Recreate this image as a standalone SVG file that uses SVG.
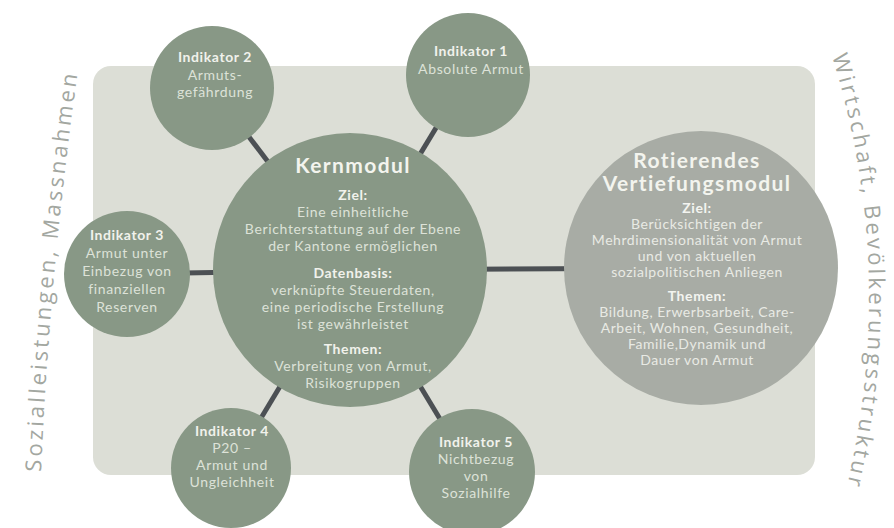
<svg xmlns="http://www.w3.org/2000/svg" width="894" height="528" viewBox="0 0 894 528">
<defs>
<style>
.bg{fill:#dcded6}
.dark{fill:#889886}
.light{fill:#a8aca5}
.con{stroke:#4c5054;stroke-width:5;fill:none}
text{font-family:Lato,"Open Sans","Liberation Sans",sans-serif;text-anchor:middle}
.t1{font-size:21px;font-weight:700;letter-spacing:1.4px;fill:#f3f4ee}
.h{font-size:14px;font-weight:700;letter-spacing:0.6px;fill:#f1f2ec}
.b{font-size:14px;letter-spacing:0.65px;fill:#dde2d8}
.hr{font-size:14px;font-weight:700;letter-spacing:0.6px;fill:#f3f4f0}
.br{font-size:14px;letter-spacing:0.55px;fill:#e8eae4}
.side{font-family:"Open Sans","Noto Sans",sans-serif;font-size:22px;letter-spacing:3.1px;fill:#a3a7a1;text-anchor:start}
</style>
<path id="pl" d="M 41,472 Q 50,262 80,56"/>
<path id="pr" d="M 832,56 Q 897,265 848,482"/>
</defs>
<rect width="894" height="528" fill="#ffffff"/>
<rect id="frame" class="bg" x="93" y="66" width="722" height="409" rx="18"/>
<g id="connectors">
<line class="con" x1="350" y1="270" x2="468" y2="75"/>
<line class="con" x1="350" y1="270" x2="212" y2="88"/>
<line class="con" x1="350" y1="270" x2="127" y2="274"/>
<line class="con" x1="350" y1="270" x2="231" y2="468"/>
<line class="con" x1="350" y1="270" x2="472" y2="472"/>
<line class="con" x1="350" y1="270" x2="701" y2="268"/>
</g>
<g id="kernmodul">
<circle class="dark" cx="350" cy="270" r="137"/>
<text class="t1" x="353" y="173">Kernmodul</text>
<text class="h" x="353" y="200">Ziel:</text>
<text class="b" x="353" y="217">Eine einheitliche</text>
<text class="b" x="353" y="234">Berichterstattung auf der Ebene</text>
<text class="b" x="353" y="251">der Kantone ermöglichen</text>
<text class="h" x="353" y="278">Datenbasis:</text>
<text class="b" x="353" y="295">verknüpfte Steuerdaten,</text>
<text class="b" x="353" y="312">eine periodische Erstellung</text>
<text class="b" x="353" y="329">ist gewährleistet</text>
<text class="h" x="353" y="354">Themen:</text>
<text class="b" x="353" y="371">Verbreitung von Armut,</text>
<text class="b" x="353" y="388">Risikogruppen</text>
</g>
<g id="vertiefungsmodul">
<circle class="light" cx="701" cy="268" r="137"/>
<text class="t1" x="697" y="168">Rotierendes</text>
<text class="t1" x="697" y="191">Vertiefungsmodul</text>
<text class="hr" x="697" y="213">Ziel:</text>
<text class="br" x="697" y="229">Berücksichtigen der</text>
<text class="br" x="697" y="245">Mehrdimensionalität von Armut</text>
<text class="br" x="697" y="261">und von aktuellen</text>
<text class="br" x="697" y="277">sozialpolitischen Anliegen</text>
<text class="hr" x="697" y="301">Themen:</text>
<text class="br" x="697" y="317">Bildung, Erwerbsarbeit, Care-</text>
<text class="br" x="697" y="333">Arbeit, Wohnen, Gesundheit,</text>
<text class="br" x="697" y="349">Familie,Dynamik und</text>
<text class="br" x="697" y="365">Dauer von Armut</text>
</g>
<g id="indikator1">
<circle class="dark" cx="468" cy="75" r="62"/>
<text class="h" x="471" y="56">Indikator 1</text>
<text class="b" x="471" y="74">Absolute Armut</text>
</g>
<g id="indikator2">
<circle class="dark" cx="212" cy="88" r="62"/>
<text class="h" x="215" y="62">Indikator 2</text>
<text class="b" x="215" y="80">Armuts-</text>
<text class="b" x="215" y="97">gefährdung</text>
</g>
<g id="indikator3">
<circle class="dark" cx="127" cy="274" r="63"/>
<text class="h" x="127" y="240">Indikator 3</text>
<text class="b" x="127" y="258">Armut unter</text>
<text class="b" x="127" y="276">Einbezug von</text>
<text class="b" x="127" y="294">finanziellen</text>
<text class="b" x="127" y="312">Reserven</text>
</g>
<g id="indikator4">
<circle class="dark" cx="231" cy="468" r="60"/>
<text class="h" x="232" y="436">Indikator 4</text>
<text class="b" x="232" y="453">P20 –</text>
<text class="b" x="232" y="470">Armut und</text>
<text class="b" x="232" y="487">Ungleichheit</text>
</g>
<g id="indikator5">
<circle class="dark" cx="472" cy="472" r="63"/>
<text class="h" x="476" y="447">Indikator 5</text>
<text class="b" x="476" y="464">Nichtbezug</text>
<text class="b" x="476" y="481">von</text>
<text class="b" x="476" y="498">Sozialhilfe</text>
</g>
<g id="side-labels">
<text class="side"><textPath href="#pl">Sozialleistungen, Massnahmen</textPath></text>
<text class="side"><textPath href="#pr">Wirtschaft, Bevölkerungsstruktur</textPath></text>
</g>
</svg>
